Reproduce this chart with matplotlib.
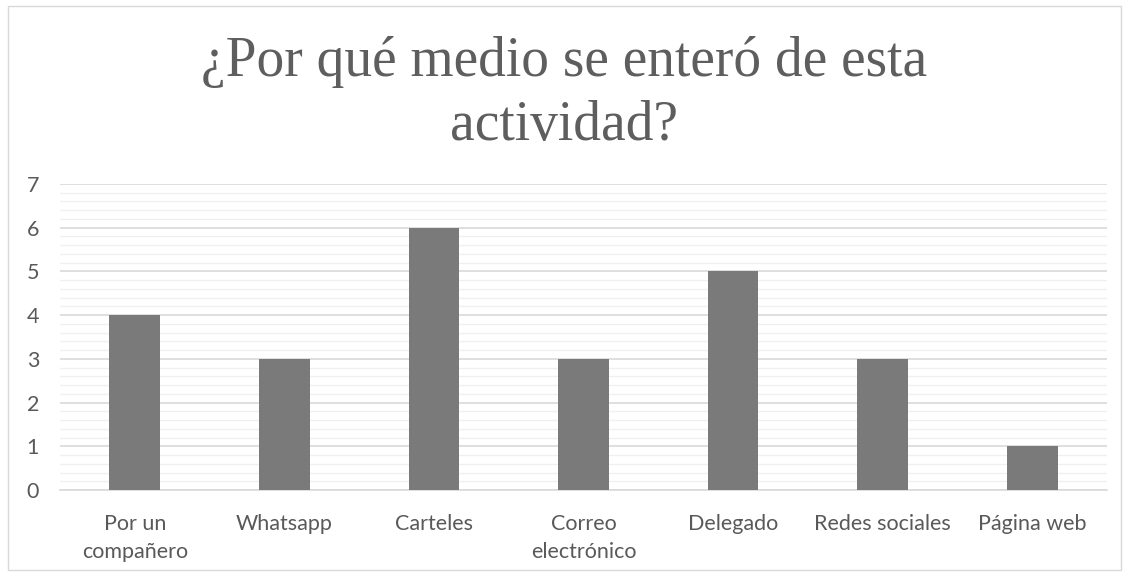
import matplotlib
matplotlib.use('Agg')
import matplotlib.pyplot as plt
from matplotlib.patches import Rectangle
from matplotlib.ticker import MultipleLocator

# data
categories = ['Por un\ncompañero', 'Whatsapp', 'Carteles', 'Correo\nelectrónico',
              'Delegado', 'Redes sociales', 'Página web']
values = [4, 3, 6, 3, 5, 3, 1]

plt.rcParams['font.family'] = ['Lato', 'DejaVu Sans']

fig = plt.figure(figsize=(11.29, 5.76), dpi=100)
ax = fig.add_axes([60 / 1129, 1 - 490 / 576, (1107 - 60) / 1129, (490 - 184) / 576])

x = range(len(categories))
ax.bar(x, values, width=0.34, color='#7a7a7a', zorder=3)

ax.set_xlim(-0.5, len(categories) - 0.5)
ax.set_ylim(0, 7)
ax.yaxis.set_major_locator(MultipleLocator(1))
ax.yaxis.set_minor_locator(MultipleLocator(0.2))
ax.grid(axis='y', which='major', color='#d9d9d9', linewidth=1.2, zorder=0)
ax.grid(axis='y', which='minor', color='#f0f0f0', linewidth=1.0, zorder=0)

for s in ['top', 'right', 'left']:
    ax.spines[s].set_visible(False)
ax.spines['bottom'].set_color('#d9d9d9')
ax.spines['bottom'].set_linewidth(1.2)

ax.set_xticks(list(x))
ax.set_xticklabels(categories, fontsize=15.5, color='#595959', linespacing=1.45)
ax.tick_params(axis='x', length=0, pad=17.5)
ax.tick_params(axis='y', which='both', length=0, labelsize=15.5, labelcolor='#595959', pad=15)

fig.text(0.5, 1 - 94 / 576, '¿Por qué medio se enteró de esta\nactividad?', ha='center', va='center',
         fontsize=40, color='#5e5e5e', family=['Liberation Serif', 'DejaVu Serif'], linespacing=1.28)

# chart frame
fig.patches.append(Rectangle((8 / 1129, 6 / 576), (1121 - 8) / 1129, (570 - 6) / 576,
                             transform=fig.transFigure, fill=False, edgecolor='#d9d9d9', linewidth=1))

fig.savefig('out.png', dpi=100)
